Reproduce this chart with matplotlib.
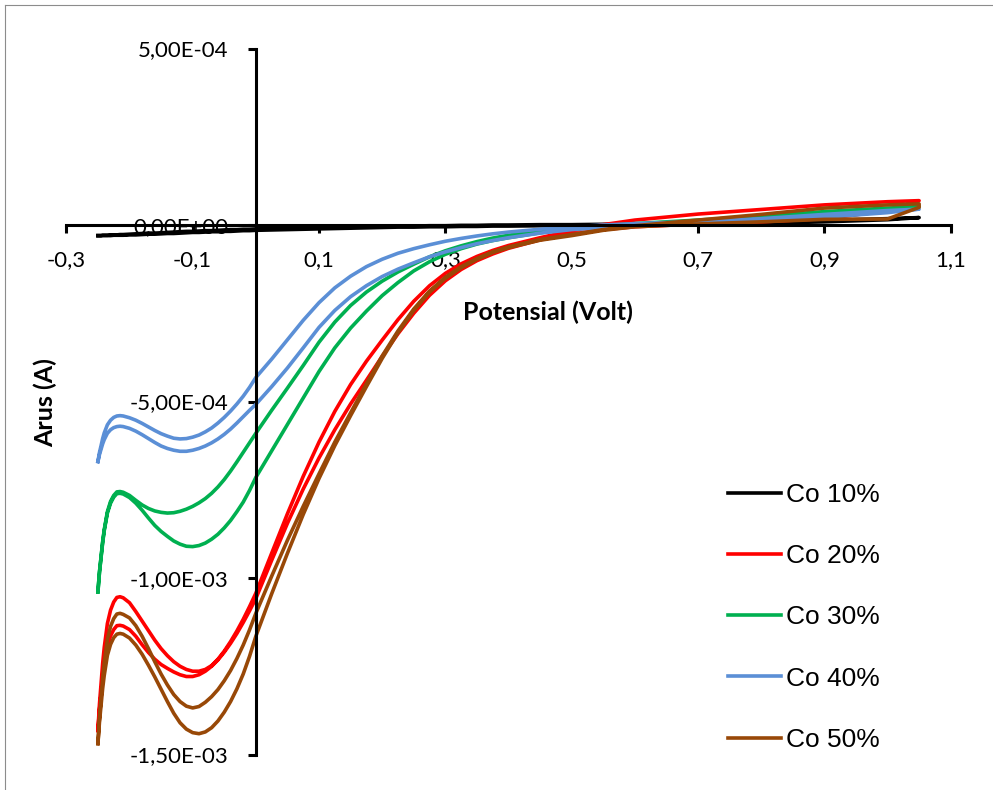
import numpy as np
import matplotlib.pyplot as plt
from matplotlib.ticker import FuncFormatter
from matplotlib.lines import Line2D

# potensial (V), sama untuk semua scan
potential = [-0.25, -0.2475, -0.245, -0.2425, -0.24, -0.235, -0.23, -0.225, -0.22, -0.215,
             -0.21, -0.2, -0.19, -0.18, -0.17, -0.16, -0.15, -0.14, -0.13, -0.12, -0.11,
             -0.1, -0.09, -0.08, -0.07, -0.06, -0.05, -0.04, -0.03, -0.02, -0.01, 0.0,
             0.025, 0.05, 0.075, 0.1, 0.125, 0.15, 0.175, 0.2, 0.225, 0.25, 0.275, 0.3,
             0.325, 0.35, 0.375, 0.4, 0.45, 0.5, 0.55, 0.6, 0.7, 0.8, 0.9, 1.0, 1.05]

# arus (mikroampere), cabang a = scan maju, cabang b = scan balik
co10_a = [-30, -30, -30, -29, -29, -29, -28, -28, -28, -27,
          -27, -26, -25, -24, -23, -23, -22, -21, -20, -19, -18, -18, -17, -16, -16, -15, -14, -13, -13, -12, -12, -11,
          -10, -9, -8, -7, -6, -5, -4, -4, -3, -3, -2, -2, -1, -1, 0, 0, 1, 1, 2, 3, 5, 8, 13, 18, 21]
co10_b = [-30, -30, -30, -30, -30, -30, -30, -29, -29, -29,
          -29, -28, -28, -27, -26, -26, -25, -24, -24, -23, -22, -21, -21, -20, -19, -19, -18, -18, -17, -16, -16, -15,
          -14, -13, -12, -11, -10, -9, -8, -7, -6, -6, -5, -5, -4, -4, -3, -3, -2, -1, 0, 1, 2, 5, 9, 15, 21]

co20_a = [-1432, -1356, -1299, -1242, -1197, -1129, -1091, -1068, -1055, -1053,
          -1056, -1070, -1095, -1122, -1149, -1176, -1200, -1220, -1237, -1250, -1259,
          -1264, -1264, -1259, -1248, -1230, -1207, -1180, -1150, -1117, -1081, -1043,
          -930, -818, -712, -615, -528, -452, -386, -326, -268, -216, -172, -137,
          -110, -89, -72, -58, -36, -16, 1, 14, 31, 44, 57, 66, 69]
co20_b = [-1432, -1372, -1328, -1283, -1247, -1194, -1164, -1146, -1135, -1134,
          -1136, -1146, -1165, -1189, -1211, -1230, -1245, -1256, -1266, -1274, -1279,
          -1279, -1274, -1264, -1250, -1232, -1210, -1185, -1157, -1126, -1093, -1058,
          -950, -845, -748, -660, -580, -507, -440, -372, -308, -250, -199, -158,
          -126, -101, -82, -66, -42, -26, -13, -5, 3, 9, 18, 40, 69]

co30_a = [-1039, -982, -940, -897, -863, -812, -783, -766, -756, -755,
          -757, -766, -780, -793, -803, -810, -814, -816, -815, -811, -805,
          -797, -787, -775, -760, -742, -721, -697, -671, -644, -617, -590,
          -525, -462, -398, -332, -275, -228, -190, -159, -133, -111, -90, -73,
          -59, -47, -37, -29, -17, -8, -2, 4, 14, 25, 38, 48, 52]
co30_b = [-1039, -983, -941, -900, -866, -816, -788, -771, -761, -760,
          -762, -772, -788, -808, -830, -851, -868, -882, -895, -904, -910,
          -911, -908, -901, -890, -876, -858, -837, -812, -785, -752, -715,
          -640, -565, -490, -415, -348, -292, -244, -200, -163, -130, -104, -83,
          -67, -54, -44, -36, -22, -11, -4, 0, 6, 12, 22, 38, 52]

co40_a = [-670, -644, -625, -605, -589, -566, -553, -545, -541, -540,
          -541, -546, -553, -562, -572, -582, -591, -598, -604, -606, -605,
          -601, -595, -586, -575, -561, -545, -527, -507, -485, -460, -432,
          -380, -325, -270, -220, -178, -145, -118, -97, -80, -67, -56, -46,
          -38, -31, -25, -20, -12, -5, 0, 4, 10, 18, 30, 41, 45]
co40_b = [-670, -650, -635, -620, -608, -590, -580, -574, -571, -570,
          -571, -576, -584, -594, -605, -616, -626, -633, -638, -641, -641,
          -638, -633, -626, -617, -606, -593, -578, -561, -543, -525, -508,
          -458, -405, -348, -290, -242, -203, -172, -146, -125, -107, -90, -76,
          -64, -53, -44, -36, -23, -13, -7, -2, 5, 11, 22, 35, 45]

co50_a = [-1469, -1395, -1340, -1284, -1240, -1174, -1137, -1115, -1102, -1100,
          -1103, -1113, -1135, -1165, -1200, -1237, -1272, -1303, -1330, -1350, -1363,
          -1368, -1364, -1352, -1336, -1316, -1291, -1262, -1228, -1190, -1147, -1100,
          -995, -893, -797, -705, -615, -532, -450, -371, -300, -238, -187, -148,
          -118, -95, -76, -62, -41, -27, -13, -2, 14, 30, 48, 57, 60]
co50_b = [-1469, -1407, -1360, -1313, -1276, -1219, -1188, -1169, -1159, -1157,
          -1159, -1170, -1190, -1216, -1247, -1280, -1315, -1350, -1383, -1410, -1428,
          -1438, -1441, -1436, -1424, -1405, -1380, -1350, -1314, -1272, -1222, -1165,
          -1045, -930, -820, -718, -625, -540, -458, -378, -305, -242, -190, -151,
          -121, -97, -78, -64, -43, -30, -15, -5, 3, 9, 16, 17, 50]

labels = ['Co 10%', 'Co 20%', 'Co 30%', 'Co 40%', 'Co 50%']
colors = ['#000000', '#ff0000', '#00b050', '#5b8fd6', '#984807']
scans = [(co10_a, co10_b), (co20_a, co20_b), (co30_a, co30_b), (co40_a, co40_b), (co50_a, co50_b)]

fig = plt.figure(figsize=(9.93, 7.90), dpi=100)
ax = fig.add_axes([0.0668, 0.0449, 0.8906, 0.8937])

# satu kurva tertutup per sampel: maju lalu balik
loop_x = potential + potential[::-1]
for (a, b), lab, col in zip(scans, labels, colors):
    arus = np.array(a + b[::-1]) * 1e-6
    ax.plot(loop_x, arus, color=col, lw=2.6, label=lab, solid_joinstyle='round')

ax.set_xlim(-0.3, 1.1)
ax.set_ylim(-1.5e-3, 5e-4)

ax.spines['left'].set_position(('data', 0))
ax.spines['bottom'].set_position(('data', 0))
ax.spines['top'].set_visible(False)
ax.spines['right'].set_visible(False)
for s in ['left', 'bottom']:
    ax.spines[s].set_linewidth(2.2)
    ax.spines[s].set_zorder(5)

ax.set_xticks(np.arange(-0.3, 1.11, 0.2))
ax.set_yticks(np.arange(-1.5e-3, 5.1e-4, 5e-4))
ax.xaxis.set_major_formatter(FuncFormatter(lambda v, p: f'{v:.1f}'.replace('.', ',')))
ax.yaxis.set_major_formatter(FuncFormatter(lambda v, p: f'{v:.2E}'.replace('.', ',')))
ax.tick_params(axis='both', direction='out', length=6, width=2.2, labelsize=16, zorder=5)
ax.tick_params(axis='x', pad=12)
ax.tick_params(axis='y', pad=14)
for t in ax.get_xticklabels() + ax.get_yticklabels():
    t.set_family(['Lato', 'DejaVu Sans'])

fig.text(0.5519, 0.6051, 'Potensial (Volt)', ha='center', va='center',
         fontsize=18, fontweight='bold', family=['Lato', 'DejaVu Sans'])
fig.text(0.0453, 0.4899, 'Arus (A)', ha='center', va='center', rotation=90,
         fontsize=18, fontweight='bold', family=['Lato', 'DejaVu Sans'])

ax.legend(loc='upper left', bbox_to_anchor=(0.7331, 0.3886), bbox_transform=fig.transFigure,
          frameon=False, borderpad=0, borderaxespad=0, handlelength=2.0, handletextpad=0.2,
          labelspacing=1.41, prop={'family': ['Liberation Sans', 'DejaVu Sans'], 'size': 19})

# garis tepi area grafik
fig.add_artist(Line2D([5 / 993, 1], [1 - 5 / 790] * 2, transform=fig.transFigure, color='#8c8c8c', lw=0.8))
fig.add_artist(Line2D([5 / 993] * 2, [0, 1 - 5 / 790], transform=fig.transFigure, color='#8c8c8c', lw=0.8))

fig.savefig('out.png', dpi=100)
